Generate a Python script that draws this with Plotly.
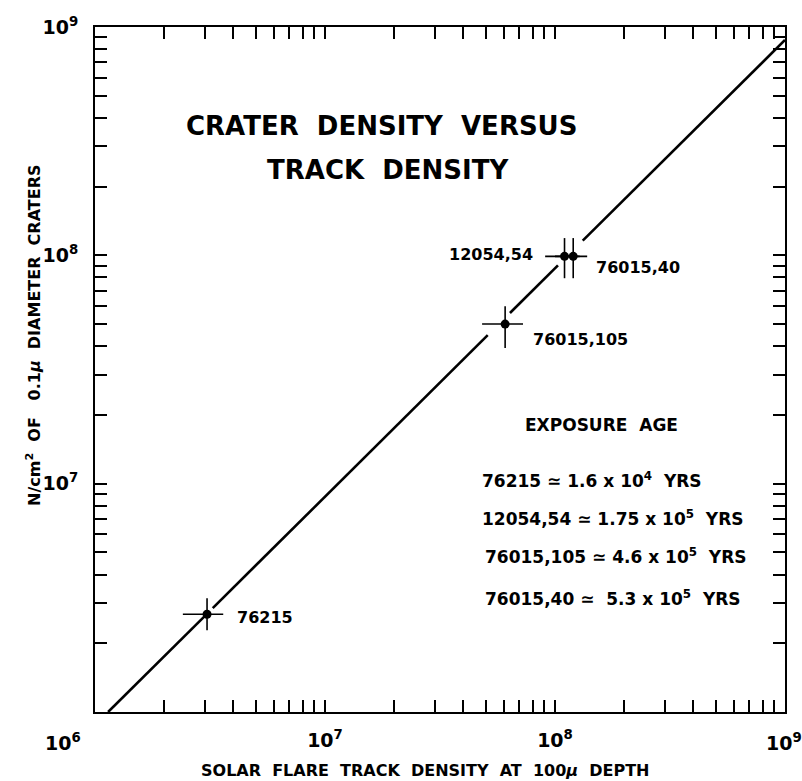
import math
import plotly.graph_objects as go

# ---- data ----
samples = ["76215", "76015,105", "12054,54", "76015,40"]
track_density = [3.07e6, 6.07e7, 1.10e8, 1.20e8]
crater_density = [2.68e6, 5.0e7, 9.9e7, 9.9e7]
track_lo = [2.41e6, 4.82e7, 9.06e7, 1.00e8]
track_hi = [3.61e6, 7.26e7, 1.28e8, 1.38e8]
crater_lo = [2.28e6, 3.93e7, 7.94e7, 7.94e7]
crater_hi = [3.15e6, 5.98e7, 1.19e8, 1.19e8]

fit_x = [1.14e6, 3.0e6, None, 3.25e6, 5.1e7, None, 6.37e7, 1.03e8, None, 1.32e8, 1.0e9]
fit_y = [1.0e6, 2.63e6, None, 2.85e6, 4.47e7, None, 5.59e7, 9.03e7, None, 1.16e8, 8.77e8]

decade_vals = [1e6, 1e7, 1e8, 1e9]
decade_text = ["10<sup>6</sup>", "10<sup>7</sup>", "10<sup>8</sup>", "10<sup>9</sup>"]

exposure_lines = [
    "76215 ≃ 1.6 x 10<sup>4</sup>  YRS",
    "12054,54 ≃ 1.75 x 10<sup>5</sup>  YRS",
    "76015,105 ≃ 4.6 x 10<sup>5</sup>  YRS",
    "76015,40 ≃  5.3 x 10<sup>5</sup>  YRS",
]

FONT = "DejaVu Sans"
TICKFONT = dict(family=FONT, size=19, color="black", weight="bold")

# tick positions (1..9 per decade); decade labels 10^7, 10^8 on axes, others as annotations
def make_ticks(label_decades):
    vals, texts = [], []
    for i, d in enumerate(decade_vals[:-1]):
        for m in range(1, 10):
            vals.append(d * m)
            texts.append(decade_text[i] if (m == 1 and i in label_decades) else "")
    vals.append(decade_vals[-1])
    texts.append(decade_text[-1] if 3 in label_decades else "")
    return vals, texts

x_tickvals, x_ticktext = make_ticks([1, 2])
y_tickvals, y_ticktext = make_ticks([1, 2, 3])

fig = go.Figure()

fig.add_trace(go.Scatter(
    x=fit_x, y=fit_y, mode="lines",
    line=dict(color="black", width=2.6),
    connectgaps=False, hoverinfo="skip", showlegend=False,
))

fig.add_trace(go.Scatter(
    x=track_density, y=crater_density, mode="markers",
    marker=dict(color="black", size=9),
    error_x=dict(type="data", symmetric=False,
                 array=[h - v for h, v in zip(track_hi, track_density)],
                 arrayminus=[v - l for l, v in zip(track_lo, track_density)],
                 color="black", thickness=1.6, width=0),
    error_y=dict(type="data", symmetric=False,
                 array=[h - v for h, v in zip(crater_hi, crater_density)],
                 arrayminus=[v - l for l, v in zip(crater_lo, crater_density)],
                 color="black", thickness=1.6, width=0),
    showlegend=False,
))

axis_common = dict(
    type="log", range=[6, 9], automargin=False,
    showline=True, linecolor="black", linewidth=2,
    mirror="ticks", ticks="inside", ticklen=12, tickwidth=1.5, tickcolor="black",
    tickfont=TICKFONT,
    showgrid=False, zeroline=False,
)

fig.update_layout(
    width=802, height=781,
    margin=dict(l=95, r=17, t=27, b=69),
    paper_bgcolor="white", plot_bgcolor="white",
    xaxis=dict(**axis_common, tickvals=x_tickvals, ticktext=x_ticktext, ticklabelstandoff=10),
    yaxis=dict(**axis_common, tickvals=y_tickvals, ticktext=y_ticktext, ticklabelstandoff=11),
    showlegend=False,
)

annots = []
# corner label 10^6 and right-end label 10^9 of the x axis
annots.append(dict(xref="paper", yref="paper", x=0, y=0, xanchor="right", yanchor="middle",
                   xshift=-12, yshift=-30, showarrow=False,
                   text=decade_text[0], font=TICKFONT))
annots.append(dict(xref="paper", yref="paper", x=1, y=0, xanchor="center", yanchor="middle",
                   xshift=-1, yshift=-30, showarrow=False,
                   text=decade_text[3], font=TICKFONT))
# point labels
label_offsets = [(28, -3, "left"), (26, -15, "left"), (-30, 2, "right"), (21, -11, "left")]
for name, xv, yv, (dx, dy, anc) in zip(samples, track_density, crater_density, label_offsets):
    annots.append(dict(x=math.log10(xv), y=math.log10(yv), xref="x", yref="y",
                       xanchor=anc, yanchor="middle", xshift=dx, yshift=dy, showarrow=False,
                       text=name, font=dict(family=FONT, size=16, color="black", weight="bold")))
# title
annots.append(dict(xref="paper", yref="paper", x=(381 - 95) / 690, y=(712 - 126) / 685,
                   xanchor="center", yanchor="middle", showarrow=False,
                   text="CRATER  DENSITY  VERSUS",
                   font=dict(family=FONT, size=26, color="black", weight="bold")))
annots.append(dict(xref="paper", yref="paper", x=(388 - 95) / 690, y=(712 - 170) / 685,
                   xanchor="center", yanchor="middle", showarrow=False,
                   text="TRACK  DENSITY",
                   font=dict(family=FONT, size=26, color="black", weight="bold")))
# exposure age block
annots.append(dict(xref="paper", yref="paper", x=(601 - 95) / 690, y=(712 - 425) / 685,
                   xanchor="center", yanchor="middle", showarrow=False,
                   text="EXPOSURE  AGE",
                   font=dict(family=FONT, size=17, color="black", weight="bold")))
exp_y = [480, 518, 556, 598]
exp_x = [480, 480, 483, 483]
for t, yy, xx in zip(exposure_lines, exp_y, exp_x):
    annots.append(dict(xref="paper", yref="paper", x=(xx - 95) / 690, y=(712 - yy) / 685,
                       xanchor="left", yanchor="middle", showarrow=False, text=t,
                       font=dict(family=FONT, size=17, color="black", weight="bold")))
# axis titles
annots.append(dict(xref="paper", yref="paper", x=(425 - 95) / 690, y=(712 - 770) / 685,
                   xanchor="center", yanchor="middle", showarrow=False,
                   text="SOLAR  FLARE  TRACK  DENSITY  AT  100<i>μ</i>  DEPTH",
                   font=dict(family=FONT, size=16, color="black", weight="bold")))
annots.append(dict(xref="paper", yref="paper", x=(33 - 95) / 690, y=(712 - 335) / 685,
                   xanchor="center", yanchor="middle", showarrow=False, textangle=-90,
                   text="N/cm<sup>2</sup>  OF   0.1<i>μ</i>  DIAMETER  CRATERS",
                   font=dict(family=FONT, size=16, color="black", weight="bold")))

fig.update_layout(annotations=annots)
fig.write_html("out.html")
